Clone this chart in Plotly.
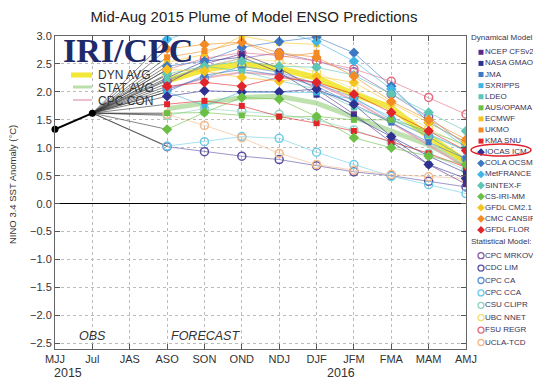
import plotly.graph_objects as go

# ---------------- data ----------------
seasons = ["MJJ", "Jul", "JAS", "ASO", "SON", "OND", "NDJ", "DJF", "JFM", "FMA", "MAM", "AMJ"]
forecast = seasons[3:]

obs_x = ["MJJ", "Jul"]
obs_y = [1.33, 1.62]

# Dynamical models (ASO ... AMJ)
ncep_cfsv2 = [2.15, 2.50, 2.68, 2.42, 2.05, 1.60, 1.10, 0.70, 0.35]
nasa_gmao = [2.25, 2.55, 2.62, 2.35, 1.95, 1.55, 1.20, 0.85, 0.55]
jma = [2.00, 2.30, 2.40, 2.30, 2.10, 1.78, 1.45, 1.10, 0.80]
sxripps = [2.00, 1.75, 2.00, 2.00, 1.99, 1.87, 1.55, 1.25, 0.95]
ldeo = [2.22, 2.46, 2.37, 2.20, 2.05, 1.72, 1.50, 1.22, 0.95]
aus_poama = [1.62, 1.63, 1.58, 1.55, 1.56, 1.50, 1.50, 1.30, 1.05]
ecmwf = [2.53, 2.67, 3.00, 2.88, 2.85, None, None, None, None]
ukmo = [2.62, 2.73, 2.89, 2.62, 2.70, None, None, None, None]
kma_snu = [1.78, 1.84, 1.75, 1.56, 1.44, 1.30, 1.11, 0.90, 0.65]
iocas_icm = [1.92, 2.02, 2.00, 2.00, 2.05, 1.78, 1.20, 0.70, 0.45]
cola_ocsm3 = [2.46, 2.55, 2.80, 2.90, 2.98, 2.70, 2.10, 1.45, 1.10]
metfrance = [2.94, 3.15, 3.20, 3.10, 2.90, 2.55, 2.05, 1.50, 1.00]
sintex_f = [2.32, 2.46, 2.55, 2.46, 2.44, 2.30, 1.96, 1.63, 1.30]
cs_iri_mm = [1.33, 1.63, 1.90, 1.87, 1.56, 1.18, 1.00, 0.85, 0.70]
gfdl_cm21 = [2.40, 2.37, 2.26, 2.19, 2.28, 2.17, 1.80, 1.45, 1.10]
cmc_cansip = [2.77, 2.85, 2.89, 2.70, 2.62, 2.28, 1.83, 1.50, 1.15]
gfdl_flor = [2.10, 2.17, 2.10, 2.26, 2.17, 1.96, 1.63, 1.30, 0.95]

# Statistical models
cpc_mrkov = [2.20, 2.45, 2.60, 2.70, 2.55, 2.36, 1.96, 1.55, 1.05]
cdc_lim = [1.02, 0.93, 0.85, 0.79, 0.68, 0.57, 0.50, 0.40, 0.30]
cpc_ca = [2.05, 2.25, 2.46, 2.35, 2.15, 1.90, 1.50, 1.20, 0.80]
cpc_cca = [1.03, 1.11, 1.20, 1.17, 0.92, 0.70, 0.49, 0.34, 0.18]
csu_clipr = [1.58, 1.70, 1.65, 1.60, 1.50, 1.32, 1.10, 0.90, 0.60]
ubc_nnet = [2.30, 2.45, 2.60, 2.55, 2.35, 2.05, 1.70, 1.35, 1.00]
fsu_regr = [2.40, 2.60, 2.70, 2.65, 2.55, 2.41, 2.19, 1.90, 1.60]
ucla_tcd = [1.60, 1.40, 1.18, 0.90, 0.70, 0.60, 0.52, 0.48, 0.45]

# Averages
dyn_avg = [2.20, 2.40, 2.50, 2.42, 2.25, 1.96, 1.72, 1.20, 0.75]
stat_avg = [1.70, 1.80, 1.90, 1.92, 1.80, 1.55, 1.30, 1.05, 0.72]
cpc_con = [2.05, 2.25, 2.35, 2.30, 2.15, 1.85, 1.45, 1.05, 0.65]

dyn_names = ["NCEP CFSv2", "NASA GMAO", "JMA", "SXRIPPS", "LDEO", "AUS/OPAMA", "ECMWF", "UKMO",
             "KMA SNU", "IOCAS ICM", "COLA OCSM3", "MetFRANCE", "SINTEX-F", "CS-IRI-MM",
             "GFDL CM2.1", "CMC CANSIP", "GFDL FLOR"]
dyn_series = [ncep_cfsv2, nasa_gmao, jma, sxripps, ldeo, aus_poama, ecmwf, ukmo, kma_snu,
              iocas_icm, cola_ocsm3, metfrance, sintex_f, cs_iri_mm, gfdl_cm21, cmc_cansip, gfdl_flor]
stat_names = ["CPC MRKOV", "CDC LIM", "CPC CA", "CPC CCA", "CSU CLIPR", "UBC NNET", "FSU REGR", "UCLA-TCD"]
stat_series = [cpc_mrkov, cdc_lim, cpc_ca, cpc_cca, csu_clipr, ubc_nnet, fsu_regr, ucla_tcd]

# ---------------- styles ----------------
dyn_colors = ["#5b2a86", "#2e3192", "#3c78c3", "#3fb5e5", "#5ec6b4", "#6cbf45", "#f7c41f", "#f48a22",
              "#e2252b", "#2e3192", "#3c78c3", "#3fb5e5", "#5ec6b4", "#6cbf45", "#f7c41f", "#f48a22", "#e2252b"]
dyn_symbols = ["square"] * 9 + ["diamond"] * 8
stat_colors = ["#8661ab", "#5c50a2", "#5b93d1", "#6ecbe8", "#8fd3c5", "#f2df72", "#e46a7e", "#f4b88a"]


def rgba(h, a):
    h = h.lstrip("#")
    return "rgba(%d,%d,%d,%.2f)" % (int(h[0:2], 16), int(h[2:4], 16), int(h[4:6], 16), a)


# page body has an 8px margin; the figure is sized so that it ends at the window edge
OFF = 8
WIN_W, WIN_H = 541, 385
W, H = WIN_W - OFF, WIN_H - OFF
# plot frame in window pixels
FL, FR, FT, FB = 55, 466, 36, 349
L, T, B = FL - OFF, FT - OFF, WIN_H - FB
PW = W - L
main_dom = (FR - FL) / PW


def pxx(x):
    return (x - FL) / PW


def pxy(y):
    return (FB - y) / (FB - FT)


fig = go.Figure()

# gray connectors from last observation to first forecast
cx, cy = [], []
for s in stat_series + dyn_series:
    cx += ["Jul", "ASO", None]
    cy += [obs_y[-1], s[0], None]
fig.add_trace(go.Scatter(x=cx, y=cy, mode="lines", line=dict(color="rgba(50,50,50,0.75)", width=0.8),
                         hoverinfo="skip", showlegend=False))

# averages
fig.add_trace(go.Scatter(x=forecast, y=stat_avg, mode="lines",
                         line=dict(color="rgba(170,215,150,0.75)", width=5), showlegend=False))
fig.add_trace(go.Scatter(x=forecast, y=dyn_avg, mode="lines",
                         line=dict(color="rgba(240,228,30,0.85)", width=6), showlegend=False))
fig.add_trace(go.Scatter(x=forecast, y=cpc_con, mode="lines",
                         line=dict(color="rgba(230,160,180,0.8)", width=2), showlegend=False))

for name, s, c in zip(stat_names, stat_series, stat_colors):
    fig.add_trace(go.Scatter(x=forecast, y=s, mode="lines+markers", name=name,
                             line=dict(color=rgba(c, 0.6), width=1),
                             marker=dict(symbol="circle-open", size=8, color=c, line=dict(width=1.5)),
                             showlegend=False))

for name, s, c, sym in zip(dyn_names, dyn_series, dyn_colors, dyn_symbols):
    fig.add_trace(go.Scatter(x=forecast, y=s, mode="lines+markers", name=name,
                             line=dict(color=rgba(c, 0.6), width=1),
                             marker=dict(symbol=sym, size=6 if sym == "square" else 8, color=c, line=dict(width=0)),
                             showlegend=False))

# observations
fig.add_trace(go.Scatter(x=obs_x, y=obs_y, mode="lines+markers",
                         line=dict(color="black", width=2), marker=dict(color="black", size=7),
                         showlegend=False, cliponaxis=False))

# ---------------- legend panel (right) ----------------
dyn_y0, dyn_step = 52.3, 11.1
stat_y0, stat_step = 255.7, 12.4
leg_text = "#3b3355"
dyn_ly = [dyn_y0 + i * dyn_step for i in range(len(dyn_names))]
stat_ly = [stat_y0 + i * stat_step for i in range(len(stat_names))]

for sym in ("square", "diamond"):
    grp = [i for i in range(len(dyn_names)) if dyn_symbols[i] == sym]
    fig.add_trace(go.Scatter(x=[481] * len(grp), y=[dyn_ly[i] for i in grp], mode="markers",
                             marker=dict(symbol=sym, size=5 if sym == "square" else 6,
                                         color=[dyn_colors[i] for i in grp]),
                             xaxis="x2", yaxis="y2", showlegend=False, hoverinfo="skip"))
fig.add_trace(go.Scatter(x=[481] * len(stat_names), y=stat_ly, mode="markers",
                         marker=dict(symbol="circle-open", size=6, color=stat_colors, line=dict(width=1.3)),
                         xaxis="x2", yaxis="y2", showlegend=False, hoverinfo="skip"))
fig.add_trace(go.Scatter(x=[485] * (len(dyn_names) + len(stat_names)), y=dyn_ly + stat_ly,
                         mode="text", text=dyn_names + stat_names, textposition="middle right",
                         textfont=dict(size=8, color=leg_text, family="Liberation Sans, Arial"),
                         xaxis="x2", yaxis="y2", showlegend=False, hoverinfo="skip", cliponaxis=False))
fig.add_trace(go.Scatter(x=[471, 471], y=[38, 242], mode="text",
                         text=["Dynamical Model:", "Statistical Model:"], textposition="middle right",
                         textfont=dict(size=8, color=leg_text, family="Liberation Sans, Arial"),
                         xaxis="x2", yaxis="y2", showlegend=False, hoverinfo="skip", cliponaxis=False))

shapes = [
    dict(type="circle", xref="x2", yref="y2", x0=471, x1=531, y0=144, y1=156,
         line=dict(color="#e0202a", width=1.5)),
    dict(type="line", xref="paper", yref="paper", x0=pxx(71), x1=pxx(92), y0=pxy(75), y1=pxy(75),
         line=dict(color="rgba(240,228,30,0.9)", width=5)),
    dict(type="line", xref="paper", yref="paper", x0=pxx(73), x1=pxx(92), y0=pxy(87), y1=pxy(87),
         line=dict(color="rgba(170,215,150,0.8)", width=3)),
    dict(type="line", xref="paper", yref="paper", x0=pxx(73), x1=pxx(92), y0=pxy(100), y1=pxy(100),
         line=dict(color="rgba(230,160,180,0.9)", width=1.5)),
]

font = "Liberation Sans, Arial, sans-serif"
annotations = [
    dict(text="<b>IRI/CPC</b>", xref="paper", yref="paper", x=pxx(128), y=pxy(51), xanchor="center",
         yanchor="middle", showarrow=False,
         font=dict(family="Liberation Serif, Times New Roman, serif", size=34, color="#1f2a6b")),
    dict(text="DYN AVG", xref="paper", yref="paper", x=pxx(96), y=pxy(75), xanchor="left", yanchor="middle",
         showarrow=False, font=dict(family=font, size=12, color="#333")),
    dict(text="STAT AVG", xref="paper", yref="paper", x=pxx(96), y=pxy(88), xanchor="left", yanchor="middle",
         showarrow=False, font=dict(family=font, size=12, color="#333")),
    dict(text="CPC CON", xref="paper", yref="paper", x=pxx(96), y=pxy(101), xanchor="left", yanchor="middle",
         showarrow=False, font=dict(family=font, size=12, color="#333")),
    dict(text="NINO 3.4 SST Anomaly (°C)", xref="paper", yref="paper", x=pxx(12), y=pxy(185),
         xanchor="center", yanchor="middle",
         textangle=-90, showarrow=False, font=dict(family=font, size=9.5, color="#333")),
    dict(text="2015", xref="x", yref="paper", x=0.35, y=pxy(373), xanchor="center", yanchor="middle",
         showarrow=False, font=dict(family=font, size=12.5, color="#333")),
    dict(text="2016", xref="x", yref="paper", x=7.65, y=pxy(373), xanchor="center", yanchor="middle",
         showarrow=False, font=dict(family=font, size=12.5, color="#333")),
    dict(text="<i>OBS</i>", xref="x", yref="y", x=1, y=-2.36, showarrow=False,
         font=dict(family=font, size=12.5, color="#333")),
    dict(text="<i>FORECAST</i>", xref="x", yref="y", x=4.02, y=-2.36, showarrow=False,
         font=dict(family=font, size=12.5, color="#333")),
]

fig.update_layout(
    width=W, height=H,
    margin=dict(l=L, r=0, t=T, b=B, autoexpand=False),
    paper_bgcolor="white", plot_bgcolor="white",
    title=dict(text="Mid-Aug 2015 Plume of Model ENSO Predictions", x=(254 - OFF) / W, y=1 - 9 / H,
               xref="container", yref="container", xanchor="center", yanchor="middle",
               font=dict(family=font, size=15, color="#222")),
    xaxis=dict(domain=[0, main_dom], type="category", categoryorder="array", categoryarray=seasons,
               range=[0, 11], showgrid=True, gridcolor="#bbbbbb", griddash="dot", gridwidth=1,
               ticks="inside", ticklen=5, tickcolor="#555", showline=True, linecolor="#666", linewidth=1,
               mirror="ticks", tickfont=dict(family=font, size=11, color="#333"), zeroline=False),
    yaxis=dict(range=[-2.6, 3.0], tickvals=[3.0, 2.5, 2.0, 1.5, 1.0, 0.5, 0.0, -0.5, -1.0, -1.5, -2.0, -2.5],
               tickformat=".1f", showgrid=True, gridcolor="#bbbbbb", griddash="dot", gridwidth=1,
               ticks="inside", ticklen=5, tickcolor="#555", showline=True, linecolor="#666", linewidth=1,
               mirror="ticks", tickfont=dict(family=font, size=11, color="#333"),
               zeroline=True, zerolinecolor="black", zerolinewidth=1.2),
    xaxis2=dict(domain=[main_dom, 1], range=[FR, WIN_W], visible=False, anchor="y2"),
    yaxis2=dict(domain=[0, 1], range=[FB, FT], visible=False, anchor="x2"),
    shapes=shapes,
    annotations=annotations,
)

fig.write_html("out.html")
